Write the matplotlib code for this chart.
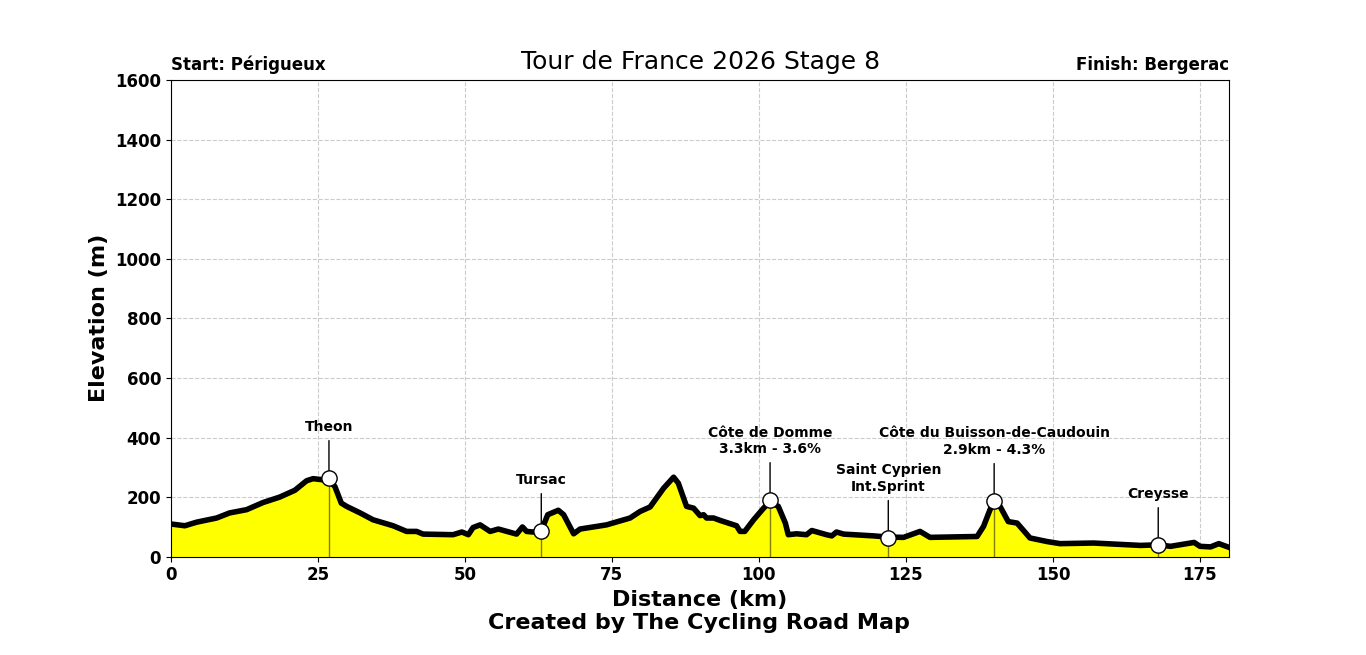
import matplotlib.pyplot as plt

# Profile
distance_km = [0, 2.4, 4.4, 7.8, 10, 12.9, 15.7, 18.5, 21.1, 23.1, 24.2, 26.0, 26.9, 27.9, 29, 29.9,
               32.2, 34.4, 37.8, 40.1, 41.8, 42.9, 48, 49.5, 50.6, 51.4, 52.6, 54.3, 55.7, 58.8,
               59.8, 60.5, 61.6, 63, 64.1, 65.9, 66.8, 68.5, 69.6, 74.1, 78.1, 79.8, 81.5, 83.8,
               85.5, 86.3, 87.7, 88.9, 90, 90.6, 91.1, 92.3, 93.4, 96.2, 96.8, 97.6, 99.1, 100.8,
               101.9, 103.3, 104.5, 105, 106.4, 108.1, 109, 111.5, 112.4, 113.2, 114.4, 119.5,
               122, 124.6, 127.4, 129.1, 137.1, 138.2, 139.3, 140, 141, 142.4, 143.9, 146.1,
               149, 151.2, 156.9, 160.9, 164.9, 167.9, 170, 174, 175, 176.8, 178.2, 180]
elevation_m = [110, 104, 116, 130, 147, 158, 182, 200, 223, 255, 262, 258, 256, 236, 180, 169,
               147, 124, 104, 85, 85, 76, 74, 83, 74, 98, 107, 85, 93, 76,
               100, 85, 83, 87, 141, 156, 141, 77, 93, 107, 130, 152, 167, 230,
               267, 247, 169, 163, 138, 141, 130, 130, 122, 104, 85, 85, 124, 163,
               185, 169, 113, 74, 77, 74, 88, 74, 70, 83, 76, 70,
               66, 65, 85, 65, 68, 102, 158, 185, 169, 118, 113, 63,
               51, 44, 46, 42, 38, 40, 35, 48, 35, 33, 44, 31]

point_names = ['Theon', 'Tursac', 'Côte de Domme\n3.3km - 3.6%', 'Saint Cyprien\nInt.Sprint',
               'Côte du Buisson-de-Caudouin\n2.9km - 4.3%', 'Creysse']
point_km = [26.9, 63, 101.9, 122, 140, 167.9]
point_elev = [265, 87, 191, 64, 188, 40]

fig = plt.figure(figsize=(13.66, 6.55), dpi=100)
ax = fig.add_subplot(1, 1, 1)
fig.subplots_adjust(left=0.125, right=0.9, top=0.878, bottom=0.15)

ax.fill_between(distance_km, elevation_m, 0, color='yellow', zorder=1)
ax.plot(distance_km, elevation_m, color='black', linewidth=4, zorder=2)

for name, km, elev in zip(point_names, point_km, point_elev):
    ax.plot([km, km], [0, elev], color='black', alpha=0.5, linewidth=1, zorder=2)
    ax.annotate(name, xy=(km, elev), xytext=(km, elev + 148), ha='center', va='bottom',
                fontsize=10, fontweight='bold',
                arrowprops=dict(arrowstyle='-', color='black', lw=1, shrinkA=3, shrinkB=0))
    ax.plot(km, elev, 'o', markersize=11, markerfacecolor='white', markeredgecolor='black',
            markeredgewidth=1, zorder=4)

ax.set_xlim(0, 180)
ax.set_ylim(0, 1600)
ax.grid(True, linestyle='--', color='#cccccc', linewidth=0.8)
ax.set_axisbelow(True)
ax.set_xticks([0, 25, 50, 75, 100, 125, 150, 175])
ax.set_yticks(range(0, 1601, 200))
for lab in ax.get_xticklabels() + ax.get_yticklabels():
    lab.set_fontweight('bold')
    lab.set_fontsize(12)

ax.set_xlabel('Distance (km)', fontsize=16, fontweight='bold', labelpad=4)
ax.set_ylabel('Elevation (m)', fontsize=16, fontweight='bold')
ax.set_title('Tour de France 2026 Stage 8', fontsize=18, pad=8)
ax.text(0, 1.012, 'Start: Périgueux', transform=ax.transAxes, ha='left', va='bottom',
        fontsize=12, fontweight='bold')
ax.text(1, 1.012, 'Finish: Bergerac', transform=ax.transAxes, ha='right', va='bottom',
        fontsize=12, fontweight='bold')
fig.text(0.512, 0.049, 'Created by The Cycling Road Map', ha='center', va='center',
         fontsize=16, fontweight='bold')

fig.savefig('out.png', dpi=100)
